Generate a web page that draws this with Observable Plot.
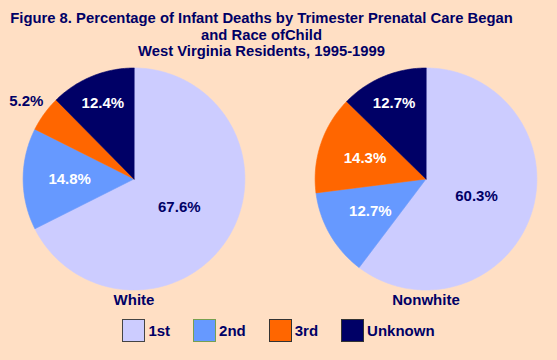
<!DOCTYPE html>
<html>
<head>
<meta charset="utf-8">
<script src="https://cdn.jsdelivr.net/npm/d3@7"></script>
<script src="https://cdn.jsdelivr.net/npm/@observablehq/plot@0.6"></script>
<style>
  html, body { margin: 0; padding: 0; background: #FFDFC4; }
  #wrap { width: 557px; height: 360px; background: #FFDFC4; font-family: "Liberation Sans", Arial, sans-serif; color: #000066; position: relative; overflow: hidden; }
  #title { height: 60px; box-sizing: border-box; padding-top: 10px; padding-right: 34px; text-align: center; font-weight: bold; font-size: 14.8px; line-height: 16.5px; }
  #chart svg { display: block; }
  #legend { display: flex; justify-content: center; align-items: center; gap: 23px; padding-top: 7px; font-weight: bold; font-size: 15px; }
  .item { display: flex; align-items: center; gap: 3px; }
  .sw { width: 21px; height: 21px; border: 1px solid #333333; }
</style>
</head>
<body>
<div id="wrap">
  <div id="title"></div>
  <div id="chart"></div>
  <div id="legend"></div>
</div>
<script>
// ---- data ----
const titleLines = ["Figure 8. Percentage of Infant Deaths by Trimester Prenatal Care Began", "and Race ofChild", "West Virginia Residents, 1995-1999"];
const races = ["White", "Nonwhite"];
const categories = ["1st", "2nd", "3rd", "Unknown"];
const whiteValues = [67.6, 14.8, 5.2, 12.4];
const nonwhiteValues = [60.3, 12.7, 14.3, 12.7];
const colors = ["#CCCCFF", "#6699FF", "#FF6600", "#000066"];
const swatchBorders = ["#444444", "#77A050", "#333333", "#333333"];
const navy = "#000066";

const valuesByRace = {White: whiteValues, Nonwhite: nonwhiteValues};
// label styling (radius as a fraction of pie radius)
const labelRadius = {"1st": 0.48, "2nd": 0.58, "3rd": 0.58, "Unknown": 0.74};

// build slice geometry
const polys = [];
const labels = [];
for (const race of races) {
  const vals = valuesByRace[race];
  const total = d3.sum(vals);
  let cum = 0;
  vals.forEach((v, i) => {
    const cat = categories[i];
    const a0 = cum / total * 2 * Math.PI;
    const a1 = (cum + v) / total * 2 * Math.PI;
    cum += v;
    const key = race + "|" + cat;
    polys.push({race, cat, key, x: 0, y: 0});
    const n = Math.max(2, Math.ceil((a1 - a0) / (Math.PI / 180)) + 1);
    for (let k = 0; k < n; k++) {
      const a = a0 + (a1 - a0) * k / (n - 1);
      polys.push({race, cat, key, x: Math.sin(a), y: Math.cos(a)});
    }
    const am = (a0 + a1) / 2;
    const outside = v < 8;
    const r = outside ? 1.2 : labelRadius[cat];
    labels.push({race, cat, text: v.toFixed(1) + "%", x: r * Math.sin(am), y: r * Math.cos(am),
      dark: outside || cat === "1st"});
  });
}

document.getElementById("title").innerHTML = titleLines.join("<br>");

const fontFamily = '"Liberation Sans", Arial, sans-serif';
const chart = Plot.plot({
  width: 557,
  height: 252,
  marginLeft: 1,
  marginRight: 0,
  marginTop: 0,
  marginBottom: 0,
  style: {background: "transparent", fontFamily},
  fx: {domain: races, paddingInner: 0.1, paddingOuter: 0, axis: null, label: null},
  x: {domain: [-1.186, 1.186], axis: null},
  y: {domain: [-1.2027, 1.0676], axis: null},
  color: {domain: categories, range: colors},
  marks: [
    Plot.line(polys, {x: "x", y: "y", z: "key", fx: "race", fill: "cat", stroke: "cat", strokeWidth: 0.6, curve: "linear-closed"}),
    Plot.text(labels.filter(d => !d.dark), {x: "x", y: "y", fx: "race", text: "text", fill: "white", fontSize: 15, fontWeight: "bold"}),
    Plot.text(labels.filter(d => d.dark), {x: "x", y: "y", fx: "race", text: "text", fill: navy, fontSize: 15, fontWeight: "bold"}),
    Plot.text(races, {fx: d => d, x: () => 0, y: () => -1.096, text: d => d, fill: navy, fontSize: 15, fontWeight: "bold"})
  ]
});
document.getElementById("chart").appendChild(chart);

const legend = document.getElementById("legend");
categories.forEach((c, i) => {
  const item = document.createElement("div");
  item.className = "item";
  const sw = document.createElement("div");
  sw.className = "sw";
  sw.style.background = colors[i];
  sw.style.borderColor = swatchBorders[i];
  const t = document.createElement("span");
  t.textContent = c;
  item.appendChild(sw);
  item.appendChild(t);
  legend.appendChild(item);
});
</script>
</body>
</html>
